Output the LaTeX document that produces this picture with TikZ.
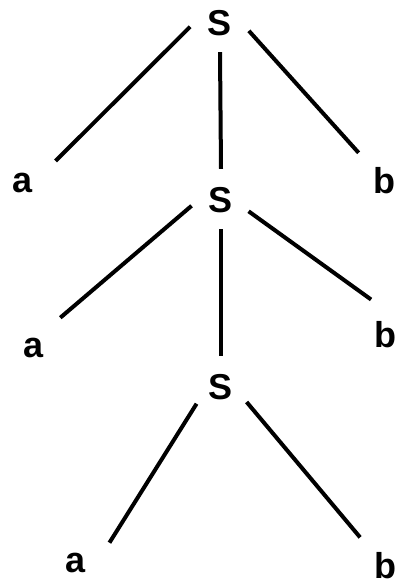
\documentclass[tikz,border=0pt]{standalone}
\usepackage{fontspec}
\setmainfont{Liberation Sans}
\usetikzlibrary{positioning}

\begin{document}
\begin{tikzpicture}[x=1pt, y=-1pt, font=\fontsize{36}{40}\selectfont\bfseries,
  sym/.style={circle, inner sep=0pt, minimum size=60pt, text height=26pt, text depth=0pt},
  leaf/.style={circle, inner sep=0pt, minimum size=74pt, text height=26pt, text depth=0pt},
  edge/.style={line width=4pt}]
  \useasboundingbox (0,0) rectangle (396,587);
  \node[sym] (s1) at (220,22) {S};
  \node[sym] (s2) at (221,199) {S};
  \node[sym] (s3) at (221,386) {S};
  \node[leaf] (a1) at (23,179) {a};
  \node[leaf] (b1) at (384,180) {b};
  \node[leaf] (a2) at (34,344) {a};
  \node[leaf] (b2) at (385,334) {b};
  \node[leaf] (a3) at (76,559) {a};
  \node[leaf] (b3) at (385,565) {b};
  \draw[edge] (s1.189) -- (a1.29);
  \draw[edge] (s1.south) -- (s2.north);
  \draw[edge] (s1.343) -- (b1.133);
  \draw[edge] (s2.193) -- (a2.45);
  \draw[edge] (s2.south) -- (s3.north);
  \draw[edge] (s2.336) -- (b2.112);
  \draw[edge] (s3.216) -- (a3.26);
  \draw[edge] (s3.328) -- (b3.132);
\end{tikzpicture}
\end{document}
